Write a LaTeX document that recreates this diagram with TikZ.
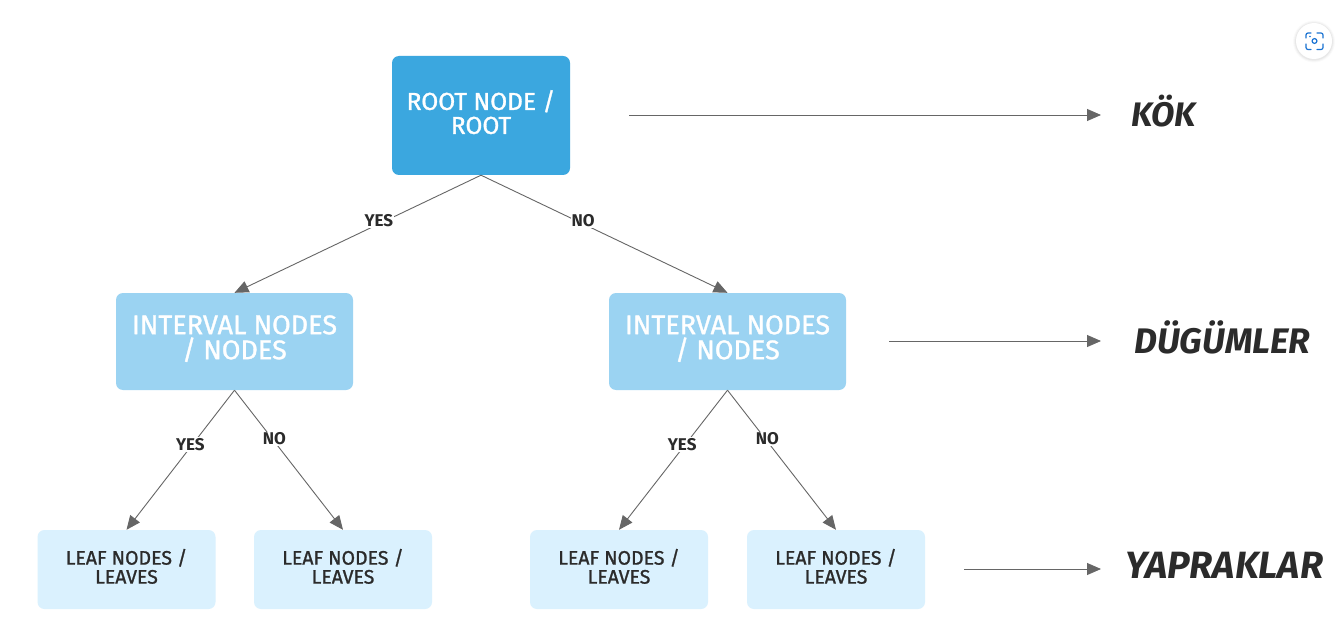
\documentclass[tikz,border=0pt]{standalone}
\usepackage{fontspec}
\setmainfont{Fira Sans}
\newfontfamily\boxfont{Fira Sans}[FakeBold=1.2]
\usetikzlibrary{arrows.meta,calc}
\definecolor{rootc}{HTML}{3BA7DF}
\definecolor{intc}{HTML}{9BD3F2}
\definecolor{leafc}{HTML}{DAF1FE}
\definecolor{ink}{HTML}{2B2B2B}
\definecolor{linec}{HTML}{666666}
\definecolor{lensc}{HTML}{1A73D2}
\newcommand{\twolines}[4]{\raisebox{#1}{\vbox{\baselineskip=#2\lineskiplimit=-100pt\halign{\hfil##\hfil\cr#3\cr#4\cr}}}}
\tikzset{
  x=1pt,y=-1pt,
  box/.style={rounded corners=7pt,draw=none,align=center,inner sep=0pt,minimum height=#1},
  rootbox/.style={box=119pt,fill=rootc,text=white,minimum width=178pt,font=\boxfont\fontsize{24.5}{24}\selectfont},
  intbox/.style={box=97pt,fill=intc,text=white,minimum width=237pt,font=\boxfont\fontsize{27}{25}\selectfont},
  leafbox/.style={box=79pt,fill=leafc,text=ink,minimum width=178pt,font=\boxfont\fontsize{19.5}{19}\selectfont},
  conn/.style={draw=linec,line width=0.9pt,-{Triangle[length=14pt,width=12pt,fill=linec]}},
  guide/.style={conn},
  edgelabel/.style={fill=white,inner sep=1pt,text=ink,font=\fontsize{17}{17}\selectfont\bfseries},
  tierlabel/.style={anchor=west,inner sep=0pt,text=ink,font=\fontsize{#1}{#1}\selectfont\bfseries\itshape},
}
\begin{document}
\begin{tikzpicture}
\useasboundingbox (0,0) rectangle (1343,644);
\fill[white] (0,0) rectangle (1343,644);
% lens badge
\foreach \r/\o in {21/.02,20/.03,19/.04}{\fill[black,opacity=\o] (1314,41.5) circle (\r pt);}
\fill[white] (1314,41) circle (18pt);
\begin{scope}[draw=lensc,line width=1.2pt,line cap=round,rounded corners=2pt]
\draw (1306,38) -- (1306,33) -- (1311,33);
\draw (1317,33) -- (1323,33) -- (1323,38);
\draw (1323,44) -- (1323,49.5) -- (1317,49.5);
\draw (1311,49.5) -- (1306,49.5) -- (1306,44);
\draw (1314.5,41) circle (2.4pt);
\end{scope}
\fill[lensc] (1310,36.5) circle (0.9pt);
% boxes
\node[rootbox] (root) at (481,115.5) {\twolines{7pt}{24pt}{ROOT NODE /}{ROOT}};
\node[intbox] (il) at (234.5,341.5) {\twolines{8.5pt}{25pt}{INTERVAL NODES}{/ NODES}};
\node[intbox] (ir) at (727.5,341.5) {\twolines{8.5pt}{25pt}{INTERVAL NODES}{/ NODES}};
\node[leafbox] (l1) at (126.5,569.5) {\twolines{6.5pt}{19pt}{LEAF NODES /}{LEAVES}};
\node[leafbox] (l2) at (343,569.5) {\twolines{6.5pt}{19pt}{LEAF NODES /}{LEAVES}};
\node[leafbox] (l3) at (619,569.5) {\twolines{6.5pt}{19pt}{LEAF NODES /}{LEAVES}};
\node[leafbox] (l4) at (836,569.5) {\twolines{6.5pt}{19pt}{LEAF NODES /}{LEAVES}};
% tree connectors
\draw[conn] (root.south) -- node[edgelabel,pos=.39,xshift=-6pt] {YES} (il.north);
\draw[conn] (root.south) -- node[edgelabel,pos=.39,xshift=6pt] {NO} (ir.north);
\draw[conn] (il.south) -- node[edgelabel,pos=.39,xshift=-2pt] {YES} (l1.north);
\draw[conn] (il.south) -- node[edgelabel,pos=.35,xshift=2pt] {NO} (l2.north);
\draw[conn] (ir.south) -- node[edgelabel,pos=.39,xshift=-3pt] {YES} (l3.north);
\draw[conn] (ir.south) -- node[edgelabel,pos=.35,xshift=2pt] {NO} (l4.north);
% tier labels
\node[tierlabel=34] (kok) at (1131,111) {KÖK};
\node[tierlabel=35.5] (dug) at (1134,337) {DÜGÜMLER};
\node[tierlabel=38] (yap) at (1125,565) {YAPRAKLAR};
\coordinate (s1) at (629,115);
\coordinate (e1) at (1101,115);
\coordinate (s2) at (889,341);
\coordinate (e2) at (1101,341);
\coordinate (s3) at (964,569);
\coordinate (e3) at (1101,569);
\draw[guide] (s1) -- (e1);
\draw[guide] (s2) -- (e2);
\draw[guide] (s3) -- (e3);
\end{tikzpicture}
\end{document}
